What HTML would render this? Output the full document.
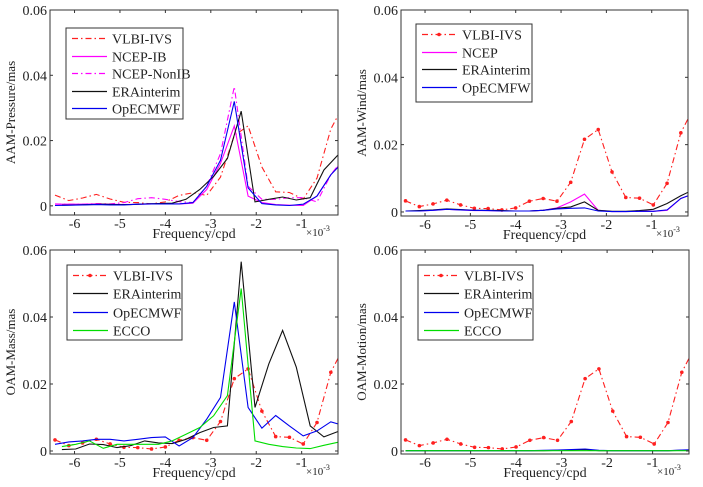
<!DOCTYPE html>
<html><head><meta charset="utf-8"><style>
html,body{margin:0;padding:0;background:#fff;}
svg{display:block;font-family:"Liberation Serif",serif;}
</style></head><body>
<svg id="c" width="703" height="487" viewBox="0 0 703 487" xmlns="http://www.w3.org/2000/svg"></svg>
<script>
// frequency grids (x 1e-3 cpd)
const freqA = [-6.43,-6.126,-5.823,-5.519,-5.216,-4.912,-4.608,-4.305,-4.001,-3.698,-3.394,-3.090,-2.787,-2.483,-2.180,-1.876,-1.572,-1.269,-0.965,-0.662,-0.358,-0.054];
const freqB = [-6.278,-5.974,-5.671,-5.367,-5.064,-4.760,-4.456,-4.153,-3.849,-3.546,-3.242,-2.938,-2.635,-2.331,-2.028,-1.724,-1.420,-1.117,-0.813,-0.510,-0.206,0.098];
const xTicks = [-6,-5,-4,-3,-2,-1];
const yTicks = [0,0.02,0.04,0.06];
const yTickLabels = ["0","0.02","0.04","0.06"];
// VLBI-IVS
const vlbi = [0.0033,0.0016,0.0024,0.0035,0.0021,0.0011,0.0010,0.0006,0.0012,0.0032,0.0040,0.0032,0.0088,0.0216,0.0245,0.0119,0.0043,0.0041,0.0021,0.0085,0.0235,0.0315];
// AAM pressure
const pNcepIB = [0.0005,0.0005,0.0005,0.0006,0.0005,0.0004,0.0005,0.0006,0.0006,0.0006,0.0008,0.005,0.013,0.0245,0.003,0.001,0.0004,0.0002,0.0001,0.003,0.0095,0.0145];
const pNcepNonIB = [0.0006,0.0005,0.0005,0.0007,0.0006,0.001,0.0022,0.0025,0.002,0.0013,0.001,0.006,0.016,0.0365,0.006,0.002,0.002,0.0025,0.0025,0.0012,0.0095,0.015];
const pEra = [0.0002,0.0003,0.0004,0.0005,0.0004,0.0004,0.0006,0.0007,0.0008,0.002,0.005,0.009,0.0145,0.029,0.0012,0.002,0.0027,0.0018,0.0025,0.011,0.0155,0.019];
const pOp = [0.0001,0.0002,0.0003,0.0004,0.0003,0.0003,0.0005,0.0006,0.0006,0.0006,0.001,0.006,0.014,0.032,0.0055,0.0007,0.0003,0.0001,0.0005,0.003,0.0095,0.014];
// AAM wind
const wNcep = [0.0003,0.0003,0.0005,0.0008,0.0006,0.0004,0.0004,0.0003,0.0003,0.0003,0.0005,0.0012,0.003,0.0053,0.0005,0.0001,0.0001,0.0002,0.0002,0.0005,0.004,0.0055];
const wEra = [0.0003,0.0004,0.0006,0.0009,0.0007,0.0005,0.0005,0.0004,0.0003,0.0003,0.0005,0.0011,0.0015,0.003,0.0005,0.0002,0.0002,0.0004,0.0008,0.0025,0.0048,0.0068];
const wOp = [0.0003,0.0003,0.0005,0.0008,0.0006,0.0005,0.0004,0.0003,0.0003,0.0003,0.0005,0.0009,0.0011,0.0012,0.0003,0.0001,0.0001,0.0002,0.0002,0.0006,0.004,0.0055];
// OAM mass
const mEra = [0.0004,0.0006,0.0021,0.0019,0.001,0.0016,0.003,0.0024,0.0022,0.0035,0.0055,0.007,0.0075,0.0565,0.013,0.026,0.036,0.025,0.0075,0.0042,0.0058,0.007];
const mOp = [0.002,0.0027,0.003,0.0035,0.0035,0.003,0.0035,0.004,0.0042,0.0015,0.004,0.0095,0.016,0.0445,0.013,0.0068,0.0106,0.0075,0.0045,0.006,0.0087,0.0075];
const mEcco = [0.0013,0.002,0.003,0.0008,0.002,0.002,0.002,0.002,0.003,0.005,0.007,0.0105,0.0165,0.0485,0.003,0.002,0.0013,0.0009,0.0007,0.0017,0.0026,0.003];
// OAM motion
const oEra = [0.0001,0.0001,0.0001,0.0001,0.0001,0.0001,0.0001,0.0001,0.0001,0.0001,0.0001,0.0002,0.0003,0.0004,0.0001,0.0001,0.0001,0.0001,0.0001,0.0001,0.0002,0.0003];
const oOp = [0.0001,0.0001,0.0001,0.0001,0.0001,0.0001,0.0001,0.0001,0.0001,0.0001,0.0002,0.0003,0.0004,0.0006,0.0002,0.0001,0.0001,0.0001,0.0001,0.0001,0.0003,0.0004];
const oEcco = [0.0001,0.0001,0.0001,0.0001,0.0001,0.0001,0.0001,0.0001,0.0001,0.0001,0.0001,0.0001,0.0001,0.0001,0.0001,0.0001,0.0001,0.0001,0.0001,0.0001,0.0001,0.0001];

const NS='http://www.w3.org/2000/svg';
const svg=document.getElementById('c');
function mk(tag,attrs,parent){const e=document.createElementNS(NS,tag);for(const k in attrs)e.setAttribute(k,attrs[k]);(parent||svg).appendChild(e);return e;}
const DD='6,3,1.5,3';

function panel(p){
  const g=mk('g',{});
  
  
  const xs=v=>p.x0+(v-p.xmin)/(p.xmax-p.xmin)*(p.x1-p.x0);
  const ys=v=>p.yb-(v-p.ymin)/(p.ymax-p.ymin)*(p.yb-p.yt);
  const cid='clip-'+p.name;
  const cp=mk('clipPath',{id:cid},g);mk('rect',{x:p.x0,y:p.yt,width:p.x1-p.x0,height:p.yb-p.yt},cp);
  const sg=mk('g',{'clip-path':'url(#'+cid+')'},g);
  p.series.forEach(s=>{
    const pts=s.f.map((f,i)=>xs(f).toFixed(1)+','+ys(s.v[i]).toFixed(1)).join(' ');
    const pl=mk('polyline',{points:pts,fill:'none',stroke:s.c,'stroke-width':1.1,'stroke-dasharray':s.dash||'none'},sg);
    
    
    if(s.m){s.f.forEach((f,i)=>{
      const d=mk('circle',{cx:xs(f),cy:ys(s.v[i]),r:1.8,fill:s.c},sg);
      
      
    });}
  });
  const box=mk('rect',{x:p.x0,y:p.yt,width:p.x1-p.x0,height:p.yb-p.yt,fill:'none',stroke:'#333','stroke-width':1},g);
  
  
  xTicks.forEach(t=>{
    const x=xs(t);
    mk('line',{x1:x,x2:x,y1:p.yb,y2:p.yb-3,stroke:'#333'},g);
    mk('line',{x1:x,x2:x,y1:p.yt,y2:p.yt+3,stroke:'#333'},g);
    const tl=mk('text',{x:x,y:p.yb+13,'text-anchor':'middle','font-size':14,fill:'#222'},g);
    tl.textContent=String(t);
    
    
  });
  yTicks.forEach((t,i)=>{
    const y=ys(t);
    mk('line',{x1:p.x0,x2:p.x0+3,y1:y,y2:y,stroke:'#333'},g);
    mk('line',{x1:p.x1,x2:p.x1-3,y1:y,y2:y,stroke:'#333'},g);
    const tl=mk('text',{x:p.x0-3,y:y+5,'text-anchor':'end','font-size':14,fill:'#222'},g);
    tl.textContent=yTickLabels[i];
    
    
  });
  const xt=mk('text',{x:(p.x0+p.x1)/2,y:p.yb+23,'text-anchor':'middle','font-size':14,fill:'#222'},g);
  xt.textContent='Frequency/cpd';
  
  
  const ex=mk('text',{x:p.x1-32,y:p.yb+21,'font-size':11,fill:'#222'},g);
  ex.innerHTML='×10<tspan dy="-5" font-size="8">-3</tspan>';
  
  
  const yt=mk('text',{x:0,y:0,'text-anchor':'middle','font-size':13,fill:'#222',transform:'translate('+(p.x0-35)+','+((p.yt+p.yb)/2)+') rotate(-90)'},g);
  yt.textContent=p.ytitle;
  
  
  // legend
  const L=p.leg;
  const lg=mk('g',{},g);
  
  
  mk('rect',{x:L.x,y:L.y,width:L.w,height:L.h,fill:'#fff',stroke:'#333','stroke-width':1},lg);
  p.series.forEach((s,i)=>{
    const yy=Math.round(L.y+10+i*L.dy)+0.5;
    const e=mk('g',{},lg);
    
    
    mk('line',{x1:L.x+6,x2:L.x+41,y1:yy,y2:yy,stroke:s.c,'stroke-width':1.3,'stroke-dasharray':s.dash||'none'},e);
    if(s.m)mk('circle',{cx:L.x+23,cy:yy,r:1.8,fill:s.c},e);
    const t=mk('text',{x:L.x+46,y:yy+5,'font-size':14,fill:'#222'},e);
    t.textContent=s.label;
  });
}
const R='#ff2020',M='#ff00ff',K='#111',B='#0000ee',G='#00dd00';
panel({name:'aam-pressure-panel',x0:50,x1:338,yt:10,yb:215,xmin:-6.54,xmax:-0.2,ymin:-0.0028,ymax:0.06,ytitle:'AAM-Pressure/mas',
 leg:{x:66,y:28,w:117,h:91,dy:17.5},
 series:[{key:'vlbi-ivs',label:'VLBI-IVS',f:freqA,v:vlbi,c:R,dash:DD},
 {key:'ncep-ib',label:'NCEP-IB',f:freqA,v:pNcepIB,c:M},
 {key:'ncep-nonib',label:'NCEP-NonIB',f:freqA,v:pNcepNonIB,c:M,dash:DD},
 {key:'erainterim',label:'ERAinterim',f:freqB,v:pEra,c:K},
 {key:'opecmwf',label:'OpECMWF',f:freqA,v:pOp,c:B}]});
panel({name:'aam-wind-panel',x0:401,x1:688,yt:10,yb:216,xmin:-6.53,xmax:-0.2,ymin:-0.0012,ymax:0.06,ytitle:'AAM-Wind/mas',
 leg:{x:416,y:24,w:116,h:78,dy:17.5},
 series:[{key:'vlbi-ivs',label:'VLBI-IVS',f:freqA,v:vlbi,c:R,dash:DD,m:true},
 {key:'ncep',label:'NCEP',f:freqA,v:wNcep,c:M},
 {key:'erainterim',label:'ERAinterim',f:freqA,v:wEra,c:K},
 {key:'opecmfw',label:'OpECMFW',f:freqA,v:wOp,c:B}]});
panel({name:'oam-mass-panel',x0:50,x1:338,yt:250,yb:454,xmin:-6.54,xmax:-0.2,ymin:-0.0009,ymax:0.06,ytitle:'OAM-Mass/mas',
 leg:{x:67,y:265,w:115,h:75,dy:18.3},
 series:[{key:'vlbi-ivs',label:'VLBI-IVS',f:freqA,v:vlbi,c:R,dash:DD,m:true},
 {key:'erainterim',label:'ERAinterim',f:freqB,v:mEra,c:K},
 {key:'opecmwf',label:'OpECMWF',f:freqA,v:mOp,c:B},
 {key:'ecco',label:'ECCO',f:freqB,v:mEcco,c:G}]});
panel({name:'oam-motion-panel',x0:401,x1:689,yt:250,yb:454,xmin:-6.53,xmax:-0.2,ymin:-0.0009,ymax:0.06,ytitle:'OAM-Motion/mas',
 leg:{x:418,y:265,w:115,h:75,dy:18.3},
 series:[{key:'vlbi-ivs',label:'VLBI-IVS',f:freqA,v:vlbi,c:R,dash:DD,m:true},
 {key:'erainterim',label:'ERAinterim',f:freqA,v:oEra,c:K},
 {key:'opecmwf',label:'OpECMWF',f:freqA,v:oOp,c:B},
 {key:'ecco',label:'ECCO',f:freqA,v:oEcco,c:G}]});
</script>
</body></html>
